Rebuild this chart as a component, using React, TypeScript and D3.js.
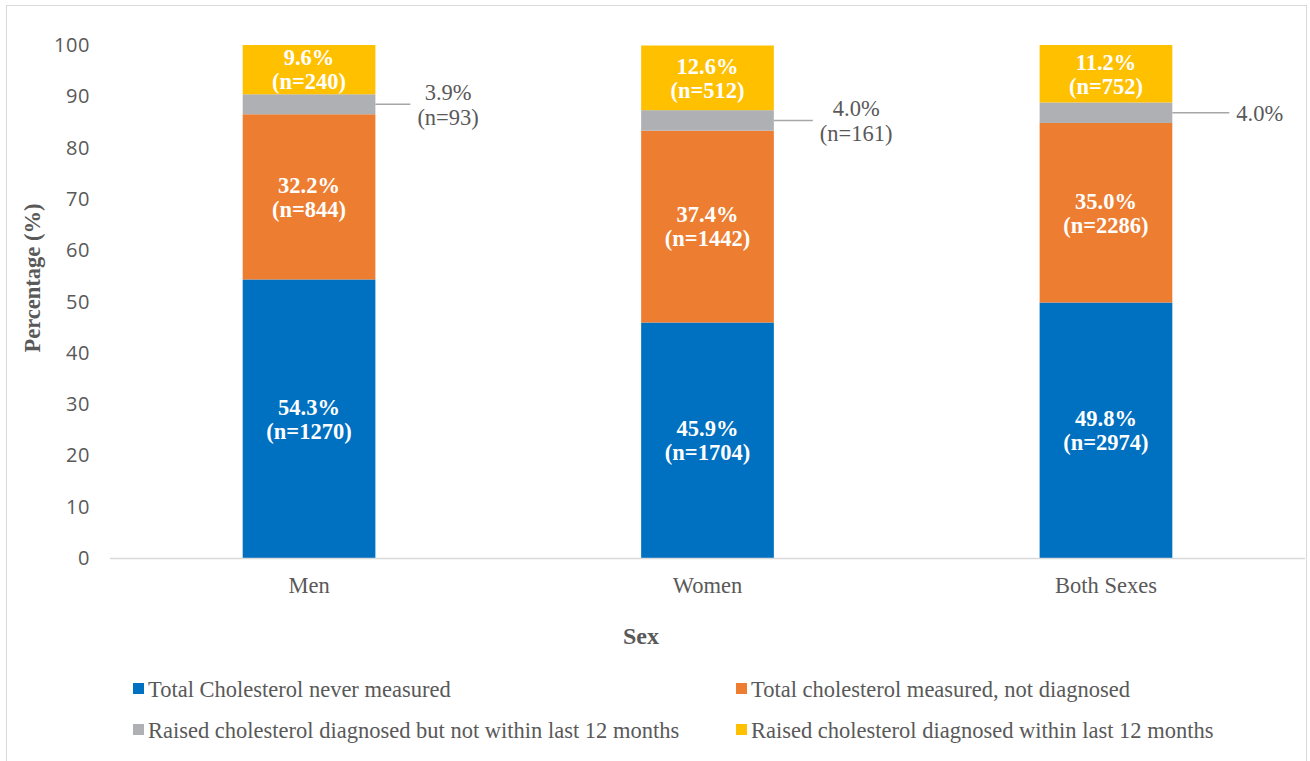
import React, { useRef, useEffect } from 'react';
import * as d3 from 'd3';

// Chart data
const categories = ['Men', 'Women', 'Both Sexes'];
const seriesNames = [
  'Total Cholesterol never measured',
  'Total cholesterol measured, not diagnosed',
  'Raised cholesterol diagnosed but not within last 12 months',
  'Raised cholesterol diagnosed within last 12 months',
];
const neverMeasured = [54.3, 45.9, 49.8];
const measuredNotDiagnosed = [32.2, 37.4, 35.0];
const diagnosedNotRecent = [3.9, 4.0, 4.0];
const diagnosedRecent = [9.6, 12.6, 11.2];
const neverMeasuredN = ['1270', '1704', '2974'];
const measuredNotDiagnosedN = ['844', '1442', '2286'];
const diagnosedNotRecentN = ['93', '161', ''];
const diagnosedRecentN = ['240', '512', '752'];
const yTicks = [0, 10, 20, 30, 40, 50, 60, 70, 80, 90, 100];
const colors = ['#0070C0', '#ED7D31', '#AFB0B3', '#FFC000'];

const App: React.FC = () => {
  const chartRef = useRef<SVGSVGElement | null>(null);

  useEffect(() => {
    if (!chartRef.current) return;
    d3.select(chartRef.current).selectAll('*').remove();

    const width = 1310;
    const height = 761;
    const margin = { top: 45, right: 5, bottom: 203, left: 110 };
    const serif = '"Liberation Serif", "Times New Roman", serif';
    const sans = '"Open Sans", "Liberation Sans", sans-serif';
    const textGray = '#595959';

    const svg = d3.select(chartRef.current)
      .attr('width', width)
      .attr('height', height);

    // Outer frame
    svg.append('rect')
      .attr('x', 6.5).attr('y', 5.5)
      .attr('width', 1300).attr('height', 780)
      .attr('fill', 'white')
      .attr('stroke', '#d9d9d9');

    const x = d3.scaleBand()
      .domain(categories)
      .range([margin.left, width - margin.right])
      .paddingInner(0.667)
      .paddingOuter(0.333);

    const y = d3.scaleLinear()
      .domain([0, 100])
      .range([height - margin.bottom, margin.top]);

    const seriesValues = [neverMeasured, measuredNotDiagnosed, diagnosedNotRecent, diagnosedRecent];
    const seriesN = [neverMeasuredN, measuredNotDiagnosedN, diagnosedNotRecentN, diagnosedRecentN];

    const rows = categories.map((c, i) => {
      const row: Record<string, number | string> = { category: c };
      seriesNames.forEach((s, k) => { row[s] = seriesValues[k][i]; });
      return row;
    });
    const stacked = d3.stack<Record<string, number | string>>()
      .keys(seriesNames)
      .value((d, key) => d[key] as number)(rows);

    // Y tick labels
    svg.append('g')
      .selectAll('text')
      .data(yTicks)
      .join('text')
      .attr('x', 90)
      .attr('y', d => y(d))
      .attr('dy', '0.35em')
      .attr('text-anchor', 'end')
      .attr('font-family', sans)
      .attr('font-size', 20)
      .attr('letter-spacing', 0.6)
      .attr('fill', textGray)
      .text(d => d);

    // Bars
    stacked.forEach((layer, k) => {
      svg.append('g')
        .selectAll('rect')
        .data(layer)
        .join('rect')
        .attr('x', d => x(d.data.category as string)!)
        .attr('y', d => y(d[1]))
        .attr('width', x.bandwidth())
        .attr('height', d => y(d[0]) - y(d[1]))
        .attr('fill', colors[k]);
    });

    // Baseline
    svg.append('line')
      .attr('x1', margin.left).attr('x2', width - margin.right)
      .attr('y1', y(0) + 0.5).attr('y2', y(0) + 0.5)
      .attr('stroke', '#d9d9d9')
      .attr('stroke-width', 1.5);

    // Inside labels (white bold)
    [0, 1, 3].forEach(k => {
      stacked[k].forEach((d, i) => {
        const cx = x(categories[i])! + x.bandwidth() / 2;
        const cy = (y(d[0]) + y(d[1])) / 2;
        const t = svg.append('text')
          .attr('text-anchor', 'middle')
          .attr('font-family', serif)
          .attr('font-weight', 'bold')
          .attr('font-size', 22.5)
          .attr('fill', 'white');
        t.append('tspan').attr('x', cx).attr('y', cy - 12).attr('dy', '0.35em')
          .text(seriesValues[k][i].toFixed(1) + '%');
        t.append('tspan').attr('x', cx).attr('y', cy + 12).attr('dy', '0.35em')
          .text(`(n=${seriesN[k][i]})`);
      });
    });

    // Callout labels for the thin grey segment
    const leaderLengths = [35, 39, 57];
    stacked[2].forEach((d, i) => {
      const x0 = x(categories[i])! + x.bandwidth();
      const x1 = x0 + leaderLengths[i];
      const cy = (y(d[0]) + y(d[1])) / 2;
      svg.append('line')
        .attr('x1', x0).attr('x2', x1)
        .attr('y1', cy).attr('y2', cy)
        .attr('stroke', '#A6A6A6')
        .attr('stroke-width', 1.5);
      const lines = [diagnosedNotRecent[i].toFixed(1) + '%'];
      if (diagnosedNotRecentN[i]) lines.push(`(n=${diagnosedNotRecentN[i]})`);
      const t = svg.append('text')
        .attr('font-family', serif)
        .attr('font-size', 22.5)
        .attr('fill', textGray)
        .attr('text-anchor', 'middle');
      const spans = lines.map((s, j) =>
        t.append('tspan')
          .attr('x', 0)
          .attr('y', cy + (j - (lines.length - 1) / 2) * 25)
          .attr('dy', '0.35em')
          .text(s));
      const w = (t.node() as SVGTextElement).getBBox().width || 60;
      spans.forEach(sp => sp.attr('x', x1 + 7 + w / 2));
    });

    // Category labels
    svg.append('g')
      .selectAll('text')
      .data(categories)
      .join('text')
      .attr('x', d => x(d)! + x.bandwidth() / 2)
      .attr('y', y(0) + 27)
      .attr('dy', '0.35em')
      .attr('text-anchor', 'middle')
      .attr('font-family', serif)
      .attr('font-size', 22.5)
      .attr('fill', textGray)
      .text(d => d);

    // Axis titles
    svg.append('text')
      .attr('x', 641)
      .attr('y', 636)
      .attr('dy', '0.35em')
      .attr('text-anchor', 'middle')
      .attr('font-family', serif)
      .attr('font-weight', 'bold')
      .attr('font-size', 24)
      .attr('fill', textGray)
      .text('Sex');

    svg.append('text')
      .attr('transform', 'translate(32,278) rotate(-90)')
      .attr('dy', '0.35em')
      .attr('text-anchor', 'middle')
      .attr('font-family', serif)
      .attr('font-weight', 'bold')
      .attr('font-size', 22.5)
      .attr('fill', textGray)
      .text('Percentage (%)');

    // Legend
    const legendX = [133, 736];
    const legendY = [689, 730];
    seriesNames.forEach((s, k) => {
      const lx = legendX[k % 2];
      const ly = legendY[Math.floor(k / 2)];
      svg.append('rect')
        .attr('x', lx).attr('y', ly - 6)
        .attr('width', 11).attr('height', 11)
        .attr('fill', colors[k]);
      svg.append('text')
        .attr('x', lx + 15)
        .attr('y', ly)
        .attr('dy', '0.35em')
        .attr('font-family', serif)
        .attr('font-size', 22.5)
        .attr('fill', textGray)
        .text(s);
    });
  }, []);

  return (
    <div style={{ position: 'absolute', left: 0, top: 0, width: 1310, height: 761, overflow: 'hidden' }}>
      <svg ref={chartRef} style={{ display: 'block' }} />
    </div>
  );
};

export default App;
